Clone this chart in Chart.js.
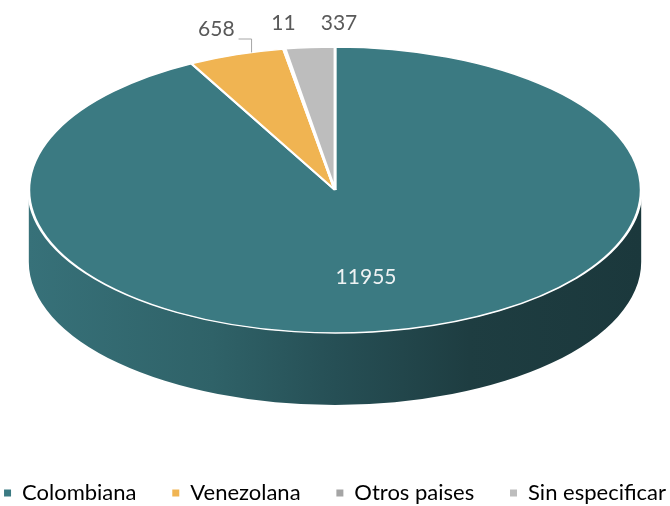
<!DOCTYPE html>
<html>
<head>
<meta charset="utf-8">
<script src="https://cdn.jsdelivr.net/npm/chart.js@4.4.0/dist/chart.umd.min.js"></script>
<style>
  html, body { margin: 0; padding: 0; background: #fff; }
</style>
</head>
<body>
<canvas id="nacionalidadChart" width="670" height="506"></canvas>
<script>
const categories = ['Colombiana', 'Venezolana', 'Otros paises', 'Sin especificar'];
const counts = [11955, 658, 11, 337];
const sliceColors = ['#3b7a82', '#f0b452', '#a5a5a5', '#bdbdbd'];

// label nudges for the small slices (dx from slice edge, dy, leader line)
const labelNudge = [null, [-20, 6, true], [-1, 0, false], [29, 0, false]];

// fake 3D: squash the pie into an ellipse and draw a shaded rim under it
const tilt = 0.467;
const depthRatio = 0.235;
const rxRatio = 0.457;
const topGap = 47;

function shade(hex, f) {
  const n = parseInt(hex.slice(1), 16);
  const r = Math.round(((n >> 16) & 255) * f);
  const g = Math.round(((n >> 8) & 255) * f);
  const b = Math.round((n & 255) * f);
  return `rgb(${r},${g},${b})`;
}

function geom(chart) {
  const area = chart.chartArea;
  const rx = area.width * rxRatio;
  const ry = rx * tilt;
  return { cx: (area.left + area.right) / 2, cy: area.top + ry, rx, ry, depth: rx * depthRatio };
}

const pie3d = {
  id: 'pie3d',
  beforeDatasetsDraw(chart) {
    const ctx = chart.ctx;
    const meta = chart.getDatasetMeta(0);
    const g = geom(chart);
    // rim (front half only)
    meta.data.forEach((arc, i) => {
      for (let k = -1; k <= 1; k++) {
        const a = Math.max(arc.startAngle, 2 * Math.PI * k);
        const b = Math.min(arc.endAngle, 2 * Math.PI * k + Math.PI);
        if (b <= a) continue;
        const grad = ctx.createLinearGradient(g.cx - g.rx, 0, g.cx + g.rx, 0);
        const base = sliceColors[i];
        grad.addColorStop(0, shade(base, 0.93));
        grad.addColorStop(0.3, shade(base, 0.8));
        grad.addColorStop(0.5, shade(base, 0.65));
        grad.addColorStop(0.72, shade(base, 0.5));
        grad.addColorStop(1, shade(base, 0.46));
        ctx.save();
        ctx.beginPath();
        ctx.ellipse(g.cx, g.cy, g.rx, g.ry, 0, a, b);
        ctx.lineTo(g.cx + g.rx * Math.cos(b), g.cy + g.ry * Math.sin(b) + g.depth);
        ctx.ellipse(g.cx, g.cy + g.depth, g.rx, g.ry, 0, b, a, true);
        ctx.closePath();
        ctx.fillStyle = grad;
        ctx.fill();
        ctx.restore();
      }
    });
    const arc0 = meta.data[0];
    ctx.save();
    ctx.translate(g.cx, g.cy);
    ctx.scale(g.rx / arc0.outerRadius, g.ry / arc0.outerRadius);
    ctx.translate(-arc0.x, -arc0.y);
  },
  afterDatasetsDraw(chart) {
    const ctx = chart.ctx;
    ctx.restore();
    const meta = chart.getDatasetMeta(0);
    const g = geom(chart);
    const total = counts.reduce((s, v) => s + v, 0);
    ctx.save();
    ctx.font = '21px Lato';
    ctx.textAlign = 'center';
    ctx.textBaseline = 'middle';
    meta.data.forEach((arc, i) => {
      const mid = (arc.startAngle + arc.endAngle) / 2;
      const txt = String(counts[i]);
      if (counts[i] / total > 0.2) {
        ctx.fillStyle = '#eef2f3';
        ctx.fillText(txt, g.cx + g.rx * Math.cos(mid) * 0.42, g.cy + g.ry * Math.sin(mid) * 0.63);
        return;
      }
      const nudge = labelNudge[i] || [0, 0, false];
      const ex = g.cx + g.rx * Math.cos(mid);
      const lx = ex + nudge[0];
      const ly = g.cy - g.ry - 23.5 + nudge[1];
      ctx.fillStyle = '#595959';
      ctx.fillText(txt, lx, ly);
      if (nudge[2]) {
        const w = ctx.measureText(txt).width;
        const x0 = lx + w / 2 + 4;
        const x1 = x0 + 13;
        const dx = (x1 - g.cx) / g.rx;
        const y1 = g.cy - g.ry * Math.sqrt(1 - dx * dx);
        ctx.strokeStyle = '#a6a6a6';
        ctx.lineWidth = 1;
        ctx.beginPath();
        ctx.moveTo(x0, g.cy - g.ry - 8);
        ctx.lineTo(x1, g.cy - g.ry - 8);
        ctx.lineTo(x1, y1);
        ctx.stroke();
      }
    });
    ctx.restore();
  }
};

const ctx = document.getElementById('nacionalidadChart').getContext('2d');
new Chart(ctx, {
  type: 'pie',
  data: {
    labels: categories,
    datasets: [{
      data: counts,
      backgroundColor: sliceColors,
      borderColor: '#ffffff',
      borderWidth: 2,
      clip: false
    }]
  },
  options: {
    responsive: false,
    animation: false,
    layout: { padding: { top: topGap, bottom: -8 } },
    plugins: {
      tooltip: { enabled: false },
      legend: {
        position: 'bottom',
        labels: {
          usePointStyle: true,
          pointStyle: 'rect',
          boxWidth: 7,
          boxHeight: 7,
          padding: 2,
          color: '#595959',
          font: { family: 'Lato', size: 22 },
          // trailing spaces give the wide gaps between items without wrapping
          generateLabels: () => categories.map((c, i) => ({
            text: i < categories.length - 1 ? c + '      ' : c,
            fillStyle: sliceColors[i],
            strokeStyle: sliceColors[i],
            lineWidth: 0,
            pointStyle: 'rect',
            index: i
          }))
        }
      }
    }
  },
  plugins: [pie3d]
});
</script>
</body>
</html>
